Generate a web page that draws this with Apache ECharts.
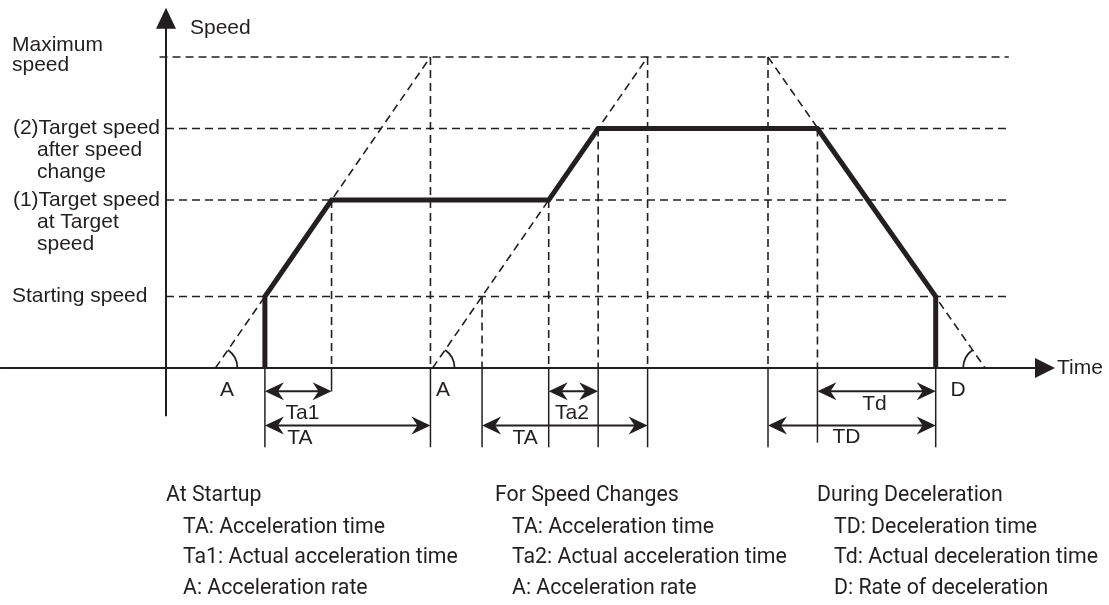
<!DOCTYPE html>
<html lang="en">
<head>
<meta charset="UTF-8">
<title>Speed profile</title>
<script src="https://cdn.jsdelivr.net/npm/echarts@6/dist/echarts.min.js"></script>
<style>html,body{margin:0;padding:0;background:#fff;}</style>
</head>
<body>
<div id="main" style="width:1109px;height:605px;"></div>
<script>
var ink = '#231f20';
var fontTop = '21px "Liberation Sans", Arial, sans-serif';
var fontNote = '21.3px Roboto, "Liberation Sans", sans-serif';

// speed levels, % of maximum speed
var levelValues = [23, 54, 77, 100];
var levelLines = [
    ['Starting speed'],
    ['(1)Target speed', 'at Target', 'speed'],
    ['(2)Target speed', 'after speed', 'change'],
    ['Maximum', 'speed']
];

// thick speed profile [time, speed]
var profile = [[46, 0], [46, 23], [77, 54], [178, 54], [201, 77], [303, 77], [358, 23], [358, 0]];

// dashed acceleration / deceleration slopes
var slopeLines = [
    [[23, 0], [123, 100]],
    [[124, 0], [224, 100]],
    [[280, 100], [381, 0]]
];

// dashed drop lines [time, speed]
var dropLines = [[77, 54], [123, 100], [147, 23], [178, 54], [201, 77], [224, 100], [280, 100], [303, 77]];

// extension lines below the time axis [time, lowest]
var extLines = [[46, -25.5], [77, -7.5], [123, -25.5], [147, -25.5], [178, -25.5], [201, -25.5],
    [224, -25.5], [280, -25.5], [303, -24], [358, -25.5]];

// dimension arrows
var spanNames = ['Ta1', 'TA', 'TA', 'Ta2', 'Td', 'TD'];
var spanFrom = [46, 46, 147, 178, 303, 280];
var spanTo = [77, 123, 224, 201, 358, 358];
var spanLevel = [-7.5, -18.5, -18.5, -7.5, -7.5, -18.5];
var spanLabelTime = [63.5, 62.3, 167, 188.8, 329.5, 316.5];
var spanLabelLevel = [-14.5, -22.5, -22.5, -14.5, -11.6, -22.2];

// rate angles
var rateNames = ['A', 'A', 'D'];
var rateLabelTime = [28.4, 128.8, 368.4];
var rateLabelLevel = -4.5;

// axis extents
var timeAxisRange = [-77.2, 413.5];
var speedAxisRange = [-15.5, 115.8];
var levelLineEnd = 392;

// notes under the chart
var noteTitles = ['At Startup', 'For Speed Changes', 'During Deceleration'];
var noteLines = [
    ['TA: Acceleration time', 'Ta1: Actual acceleration time', 'A: Acceleration rate'],
    ['TA: Acceleration time', 'Ta2: Actual acceleration time', 'A: Acceleration rate'],
    ['TD: Deceleration time', 'Td: Actual deceleration time', 'D: Rate of deceleration']
];

var chart = echarts.init(document.getElementById('main'));

function txt(x, y, text, font, align, vAlign) {
    return {
        type: 'text', x: x, y: y,
        style: {
            text: text, font: font, fill: ink,
            align: align || 'left', textAlign: align || 'left',
            verticalAlign: vAlign || 'middle', textVerticalAlign: vAlign || 'middle'
        }
    };
}

// notched arrow head, dir +1 points right, -1 points left
function arrowHead(tip, dir) {
    var L = 19, H = 9, N = 6;
    return {
        type: 'polygon',
        shape: { points: [[tip[0], tip[1]], [tip[0] - dir * L, tip[1] - H], [tip[0] - dir * (L - N), tip[1]], [tip[0] - dir * L, tip[1] + H]] },
        style: { fill: ink }
    };
}

function segmentSeries(segs, lineStyle, z) {
    return {
        type: 'custom',
        coordinateSystem: 'cartesian2d',
        z: z,
        silent: true,
        data: segs,
        renderItem: function (params, api) {
            var a = api.coord([api.value(0), api.value(1)]);
            var b = api.coord([api.value(2), api.value(3)]);
            return {
                type: 'line',
                shape: { x1: a[0], y1: a[1], x2: b[0], y2: b[1] },
                style: lineStyle
            };
        }
    };
}

var dashStyle = { stroke: ink, lineWidth: 1.6, lineDash: [8, 5] };
var thinStyle = { stroke: ink, lineWidth: 1.5 };

var levelSegs = levelValues.map(function (v, i) {
    return [i === levelValues.length - 1 ? -3 : 0, v, levelLineEnd, v];
});
var dropSegs = dropLines.map(function (d) { return [d[0], d[1], d[0], 0]; });
var slopeSegs = slopeLines.map(function (s) { return [s[0][0], s[0][1], s[1][0], s[1][1]]; });
var extSegs = extLines.map(function (d) { return [d[0], 0, d[0], d[1]]; });

var option = {
    animation: false,
    backgroundColor: '#fff',
    grid: { left: 166, top: 57, width: 860, height: 435.4 },
    xAxis: { type: 'value', min: 0, max: 400, show: false },
    yAxis: { type: 'value', min: -40, max: 100, show: false },
    graphic: [],
    series: [
        segmentSeries(levelSegs, dashStyle, 1),
        segmentSeries(dropSegs, dashStyle, 1),
        segmentSeries(slopeSegs, dashStyle, 1),
        segmentSeries(extSegs, thinStyle, 1),
        {
            // axes with arrow heads and names
            type: 'custom',
            coordinateSystem: 'cartesian2d',
            z: 3,
            silent: true,
            data: [[0, 0]],
            renderItem: function (params, api) {
                var h0 = api.coord([timeAxisRange[0], 0]);
                var h1 = api.coord([timeAxisRange[1], 0]);
                var v0 = api.coord([0, speedAxisRange[0]]);
                var v1 = api.coord([0, speedAxisRange[1]]);
                return {
                    type: 'group',
                    children: [
                        { type: 'line', shape: { x1: h0[0], y1: h0[1], x2: h1[0] - 15, y2: h1[1] }, style: { stroke: ink, lineWidth: 2 } },
                        { type: 'polygon', shape: { points: [[h1[0], h1[1]], [h1[0] - 20, h1[1] - 10], [h1[0] - 20, h1[1] + 10]] }, style: { fill: ink } },
                        { type: 'line', shape: { x1: v0[0], y1: v0[1], x2: v1[0], y2: v1[1] + 15 }, style: { stroke: ink, lineWidth: 2 } },
                        { type: 'polygon', shape: { points: [[v1[0], v1[1]], [v1[0] - 10, v1[1] + 21], [v1[0] + 10, v1[1] + 21]] }, style: { fill: ink } },
                        txt(h1[0] + 2, h1[1], 'Time', fontTop),
                        txt(v1[0] + 24, v1[1] + 20, 'Speed', fontTop)
                    ]
                };
            }
        },
        {
            // level labels on the speed axis
            type: 'custom',
            coordinateSystem: 'cartesian2d',
            z: 3,
            silent: true,
            data: levelValues.map(function (v) { return [0, v]; }),
            renderItem: function (params, api) {
                var p = api.coord([0, api.value(1)]);
                var lines = levelLines[params.dataIndex];
                var kids = [];
                if (lines.length === 2) {
                    // Maximum speed: centred on the level
                    kids.push(txt(p[0] - 154, p[1] - 12, lines[0], fontTop));
                    kids.push(txt(p[0] - 154, p[1] + 8, lines[1], fontTop));
                } else if (lines.length === 1) {
                    kids.push(txt(p[0] - 154, p[1], lines[0], fontTop));
                } else {
                    kids.push(txt(p[0] - 6, p[1], lines[0], fontTop, 'right'));
                    for (var j = 1; j < lines.length; j++) {
                        kids.push(txt(p[0] - 129, p[1] + 22 * j, lines[j], fontTop));
                    }
                }
                return { type: 'group', children: kids };
            }
        },
        {
            // acceleration / deceleration angle marks
            type: 'custom',
            coordinateSystem: 'cartesian2d',
            z: 3,
            silent: true,
            data: rateNames.map(function (n, i) { return [rateLabelTime[i], rateLabelLevel]; }),
            renderItem: function (params, api) {
                var s = slopeLines[params.dataIndex];
                var rising = s[1][1] > s[0][1];
                var base = api.coord(rising ? s[0] : s[1]);
                var other = api.coord(rising ? s[1] : s[0]);
                var ang = Math.atan2(other[1] - base[1], other[0] - base[0]);
                var start = rising ? ang : -Math.PI;
                var end = rising ? 0 : ang;
                var l = api.coord([api.value(0), api.value(1)]);
                return {
                    type: 'group',
                    children: [
                        { type: 'arc', shape: { cx: base[0], cy: base[1], r: 22, startAngle: start, endAngle: end, clockwise: true }, style: { stroke: ink, lineWidth: 1.8, fill: null } },
                        txt(l[0], l[1] + 8, rateNames[params.dataIndex], fontTop, 'center')
                    ]
                };
            }
        },
        {
            // dimension arrows
            type: 'custom',
            coordinateSystem: 'cartesian2d',
            z: 4,
            silent: true,
            data: spanFrom.map(function (f, i) {
                return [f, spanTo[i], spanLevel[i], spanLabelTime[i], spanLabelLevel[i]];
            }),
            renderItem: function (params, api) {
                var a = api.coord([api.value(0), api.value(2)]);
                var b = api.coord([api.value(1), api.value(2)]);
                var l = api.coord([api.value(3), api.value(4)]);
                return {
                    type: 'group',
                    children: [
                        { type: 'line', shape: { x1: a[0] + 8, y1: a[1], x2: b[0] - 8, y2: b[1] }, style: { stroke: ink, lineWidth: 2 } },
                        arrowHead(a, -1),
                        arrowHead(b, 1),
                        txt(l[0], l[1], spanNames[params.dataIndex], fontTop, 'center')
                    ]
                };
            }
        },
        {
            name: 'Speed profile',
            type: 'line',
            data: profile,
            z: 5,
            silent: true,
            clip: false,
            showSymbol: false,
            lineStyle: { color: ink, width: 5, join: 'miter' }
        }
    ]
};

// notes block
var noteX = [166, 495, 817];
var noteY = [496, 528, 558, 589];
noteTitles.forEach(function (t, i) {
    option.graphic.push({ type: 'text', x: noteX[i], y: noteY[0], style: { text: t, font: fontNote, fill: ink, textVerticalAlign: 'middle', verticalAlign: 'middle' } });
    noteLines[i].forEach(function (line, j) {
        option.graphic.push({ type: 'text', x: noteX[i] + 17, y: noteY[j + 1], style: { text: line, font: fontNote, fill: ink, textVerticalAlign: 'middle', verticalAlign: 'middle' } });
    });
});

chart.setOption(option);
</script>
</body>
</html>
